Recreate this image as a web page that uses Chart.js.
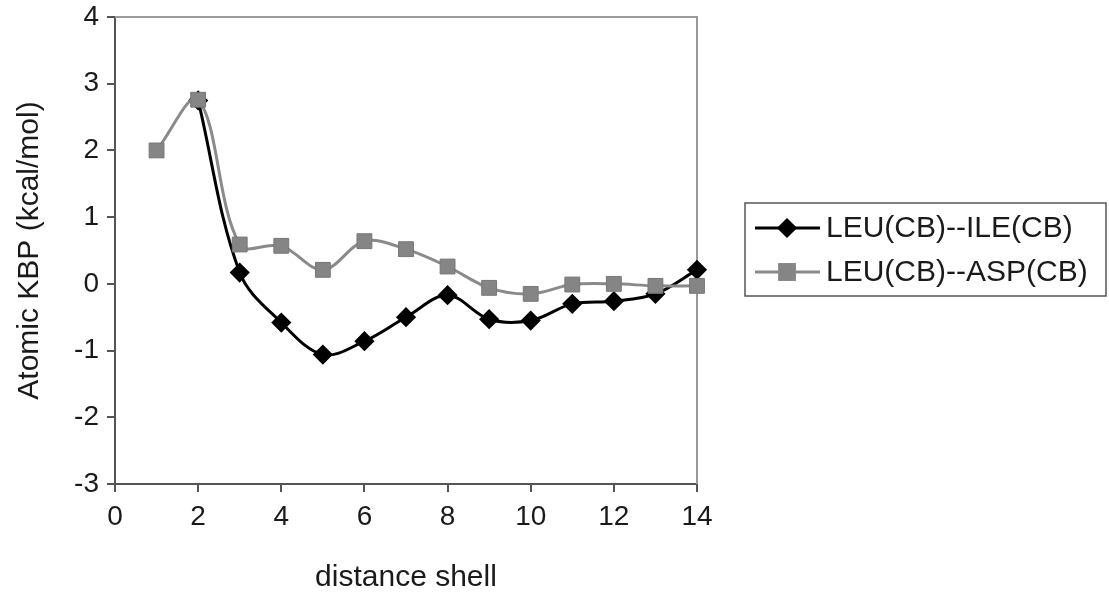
<!DOCTYPE html>
<html>
<head>
<meta charset="utf-8">
<script src="https://cdn.jsdelivr.net/npm/chart.js@4.4.1/dist/chart.umd.min.js"></script>
<style>
    html, body { margin: 0; padding: 0; background: #fff; }
    #wrap { width: 1109px; height: 596px; }
</style>
</head>
<body>
<div id="wrap"><canvas id="kbp"></canvas></div>
<script>
// distance shells and the two atomic KBP curves
const shells = [1, 2, 3, 4, 5, 6, 7, 8, 9, 10, 11, 12, 13, 14];
const leuIle = [null, 2.75, 0.17, -0.58, -1.06, -0.86, -0.5, -0.17, -0.53, -0.55, -0.3, -0.26, -0.15, 0.21];
const leuAsp = [2.0, 2.76, 0.59, 0.57, 0.21, 0.64, 0.52, 0.26, -0.06, -0.15, -0.01, 0.0, -0.03, -0.03];
const seriesNames = ["LEU(CB)--ILE(CB)", "LEU(CB)--ASP(CB)"];
const xTicks = [0, 2, 4, 6, 8, 10, 12, 14];
const yTicks = [-3, -2, -1, 0, 1, 2, 3, 4];

const FONT = "'Liberation Sans', Arial, Helvetica, sans-serif";

function toPoints(values) {
    return shells.map((s, i) => ({ x: s, y: values[i] }));
}

// plot frame (gray top/right edges) and the boxed legend on the right
const framePlugin = {
    id: "frame",
    beforeDatasetsDraw(chart) {
        const { ctx, chartArea: a } = chart;
        ctx.save();
        ctx.strokeStyle = "#9a9a9a";
        ctx.lineWidth = 2;
        ctx.beginPath();
        ctx.moveTo(a.left, a.top);
        ctx.lineTo(a.right, a.top);
        ctx.lineTo(a.right, a.bottom);
        ctx.stroke();
        ctx.restore();
    },
    afterDraw(chart) {
        const ctx = chart.ctx;
        const box = { left: 745, top: 203, width: 361, height: 93 };
        ctx.save();
        ctx.strokeStyle = "#555";
        ctx.lineWidth = 1.5;
        ctx.strokeRect(box.left, box.top, box.width, box.height);
        ctx.font = "30px " + FONT;
        ctx.textBaseline = "middle";
        chart.data.datasets.forEach((ds, i) => {
            const y = box.top + 25 + i * 44;
            ctx.strokeStyle = ds.borderColor;
            ctx.lineWidth = ds.borderWidth;
            ctx.beginPath();
            ctx.moveTo(box.left + 10, y);
            ctx.lineTo(box.left + 75, y);
            ctx.stroke();
            Chart.helpers.drawPoint(ctx, {
                pointStyle: ds.pointStyle,
                radius: ds.pointRadius,
                borderWidth: 1
            }, box.left + 42, y);
            ctx.fillStyle = ds.pointBackgroundColor;
            ctx.fill();
            ctx.fillStyle = "#1a1a1a";
            ctx.fillText(ds.label, box.left + 81, y + 1);
        });
        ctx.restore();
    }
};

new Chart(document.getElementById("kbp").getContext("2d"), {
    type: "line",
    data: {
        datasets: [
            {
                label: seriesNames[0],
                data: toPoints(leuIle),
                borderColor: "#000",
                borderWidth: 3,
                pointStyle: "rectRot",
                pointRadius: 8,
                pointBackgroundColor: "#000",
                pointBorderColor: "#000",
                tension: 0.35,
                order: 2,
                clip: false
            },
            {
                label: seriesNames[1],
                data: toPoints(leuAsp),
                borderColor: "#8a8a8a",
                borderWidth: 3,
                pointStyle: "rect",
                pointRadius: 10.5,
                pointBackgroundColor: "#858585",
                pointBorderColor: "#777",
                pointBorderWidth: 1,
                tension: 0.35,
                order: 1,
                clip: false
            }
        ]
    },
    options: {
        responsive: true,
        maintainAspectRatio: false,
        animation: false,
        layout: {
            padding: { top: 17, right: 412, bottom: 0, left: 0 }
        },
        plugins: {
            legend: { display: false },
            tooltip: { enabled: false }
        },
        scales: {
            x: {
                type: "linear",
                min: 0,
                max: 14,
                afterBuildTicks: (scale) => {
                    scale.ticks = xTicks.map(v => ({ value: v }));
                },
                afterFit: (scale) => {
                    scale.height = 112;
                    scale.paddingRight = 0;
                },
                border: { color: "#555", width: 2 },
                grid: {
                    drawOnChartArea: false,
                    drawTicks: true,
                    tickLength: 8,
                    color: "#555",
                    lineWidth: 2
                },
                ticks: {
                    color: "#1a1a1a",
                    padding: 8,
                    maxRotation: 0,
                    font: { family: FONT, size: 28 }
                },
                title: {
                    display: true,
                    text: "distance shell",
                    color: "#1a1a1a",
                    font: { family: FONT, size: 30 },
                    padding: { top: 0, bottom: 0 }
                }
            },
            y: {
                min: -3,
                max: 4,
                afterBuildTicks: (scale) => {
                    scale.ticks = yTicks.map(v => ({ value: v }));
                },
                afterFit: (scale) => {
                    scale.width = 115;
                    scale.paddingTop = 0;
                    scale.paddingBottom = 0;
                },
                border: { color: "#555", width: 2 },
                grid: {
                    drawOnChartArea: false,
                    drawTicks: true,
                    tickLength: 8,
                    color: "#555",
                    lineWidth: 2
                },
                ticks: {
                    color: "#1a1a1a",
                    padding: 8,
                    font: { family: FONT, size: 28 }
                },
                title: {
                    display: true,
                    text: "Atomic KBP (kcal/mol)",
                    color: "#1a1a1a",
                    font: { family: FONT, size: 30 },
                    padding: { top: 12, bottom: 0 }
                }
            }
        }
    },
    plugins: [framePlugin]
});
</script>
</body>
</html>
